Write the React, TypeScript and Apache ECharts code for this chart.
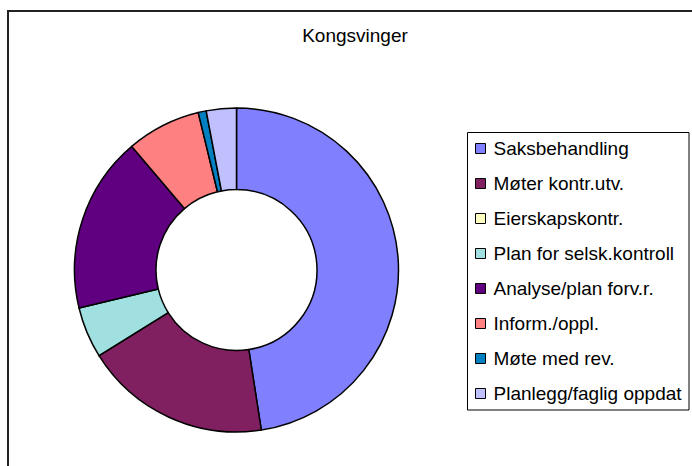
import React, { useEffect, useRef } from "react";
import * as echarts from "echarts";

const categories = [
  "Saksbehandling",
  "Møter kontr.utv.",
  "Eierskapskontr.",
  "Plan for selsk.kontroll",
  "Analyse/plan forv.r.",
  "Inform./oppl.",
  "Møte med rev.",
  "Planlegg/faglig oppdat",
];
const values = [47.6, 18.6, 0, 5.1, 17.6, 7.4, 0.8, 3.0];
const colors = ["#8080FF", "#802060", "#FFFFC0", "#A0E0E0", "#600080", "#FF8080", "#0080C0", "#C0C0FF"];
const chartTitle = "Kongsvinger";

export default function App() {
  const ref = useRef<HTMLDivElement>(null);
  useEffect(() => {
    if (!ref.current) return;
    const chart = echarts.init(ref.current, null, { renderer: "svg" });
    const font = "Liberation Sans, Arial, sans-serif";
    chart.setOption({
      animation: false,
      backgroundColor: "#ffffff",
      color: colors,
      title: {
        text: chartTitle,
        left: 355,
        top: 26,
        textAlign: "center",
        padding: 0,
        textStyle: { fontFamily: font, fontSize: 19, fontWeight: "normal", color: "#000" },
      },
      legend: {
        orient: "vertical",
        left: 475,
        top: 139,
        padding: 0,
        itemWidth: 10,
        itemHeight: 10,
        itemGap: 16,
        icon: "rect",
        selectedMode: false,
        data: categories,
        itemStyle: { borderColor: "#000", borderWidth: 1 },
        textStyle: { fontFamily: font, fontSize: 19, color: "#000", padding: [0, 0, 0, 3] },
      },
      graphic: [
        {
          type: "rect",
          shape: { x: 8, y: 11, width: 720, height: 500 },
          style: { fill: "none", stroke: "#222", lineWidth: 2 },
          silent: true,
          z: -1,
        },
        {
          type: "rect",
          shape: { x: 467.5, y: 132.5, width: 221.5, height: 277.5 },
          style: { fill: "none", stroke: "#000", lineWidth: 1 },
          silent: true,
        },
      ],
      series: [
        {
          type: "pie",
          center: [236.5, 270],
          radius: [80.5, 162],
          startAngle: 90,
          clockwise: true,
          avoidLabelOverlap: false,
          label: { show: false },
          labelLine: { show: false },
          emphasis: { disabled: true },
          itemStyle: { borderColor: "#000", borderWidth: 1.5 },
          data: categories.map((name, i) => ({ name, value: values[i] })),
        },
      ],
    });
    return () => chart.dispose();
  }, []);
  return (
    <div
      ref={ref}
      style={{ position: "absolute", left: 0, top: 0, width: 692, height: 466 }}
    />
  );
}
